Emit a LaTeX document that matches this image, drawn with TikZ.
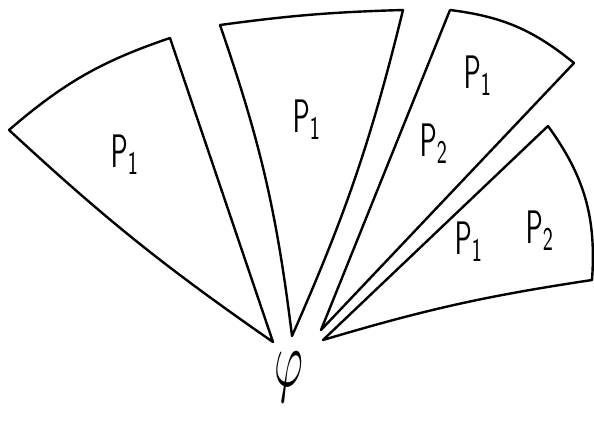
\documentclass[tikz,border=0pt]{standalone}
\usepackage{graphicx}
\begin{document}
\begin{tikzpicture}[x=1pt,y=-1pt,
  edge/.style={line width=2.4pt, line join=round, line cap=round},
  lbl/.style={inner sep=0pt, outer sep=0pt}]
\fill[white] (0,0) rectangle (594,423);
\useasboundingbox (0,0) rectangle (594,423);
% sector 1
\coordinate (a1) at (9,130);
\coordinate (b1) at (170,38);
\coordinate (o1) at (273,342);
% sector 2
\coordinate (a2) at (220,25);
\coordinate (b2) at (403,10);
\coordinate (o2) at (292,336);
% sector 3
\coordinate (a3) at (450,10);
\coordinate (b3) at (574,63);
\coordinate (o3) at (321,330);
% sector 4
\coordinate (a4) at (548,126);
\coordinate (b4) at (592,280);
\coordinate (o4) at (323,340);

\draw[edge] (a1) to[bend left=11] (b1) -- (o1) to[bend left=4] (a1);
\draw[edge] (a2) to[bend left=3] (b2) to[bend left=5] (o2) to[bend right=6] (a2);
\draw[edge] (a3) to[bend left=16] (b3) -- (o3) -- (a3);
\draw[edge] (a4) to[bend left=20] (b4) to[bend right=4] (o4) -- (a4);

\node[lbl] (s1p1) at (125,155) {\scalebox{2.7}[4.7]{$\mathsf{P}_{\mathsf{1}}$}};
\node[lbl] (s2p1) at (307,120) {\scalebox{2.7}[4.7]{$\mathsf{P}_{\mathsf{1}}$}};
\node[lbl] (s3p1) at (478,76) {\scalebox{2.7}[4.7]{$\mathsf{P}_{\mathsf{1}}$}};
\node[lbl] (s3p2) at (434,144) {\scalebox{2.7}[4.7]{$\mathsf{P}_{\mathsf{2}}$}};
\node[lbl] (s4p1) at (469,242) {\scalebox{2.7}[4.7]{$\mathsf{P}_{\mathsf{1}}$}};
\node[lbl] (s4p2) at (540,231) {\scalebox{2.7}[4.7]{$\mathsf{P}_{\mathsf{2}}$}};
\node[lbl, anchor=base] (phi) at (289,386) {\scalebox{4.4}[8]{$\varphi$}};
\end{tikzpicture}
\end{document}
